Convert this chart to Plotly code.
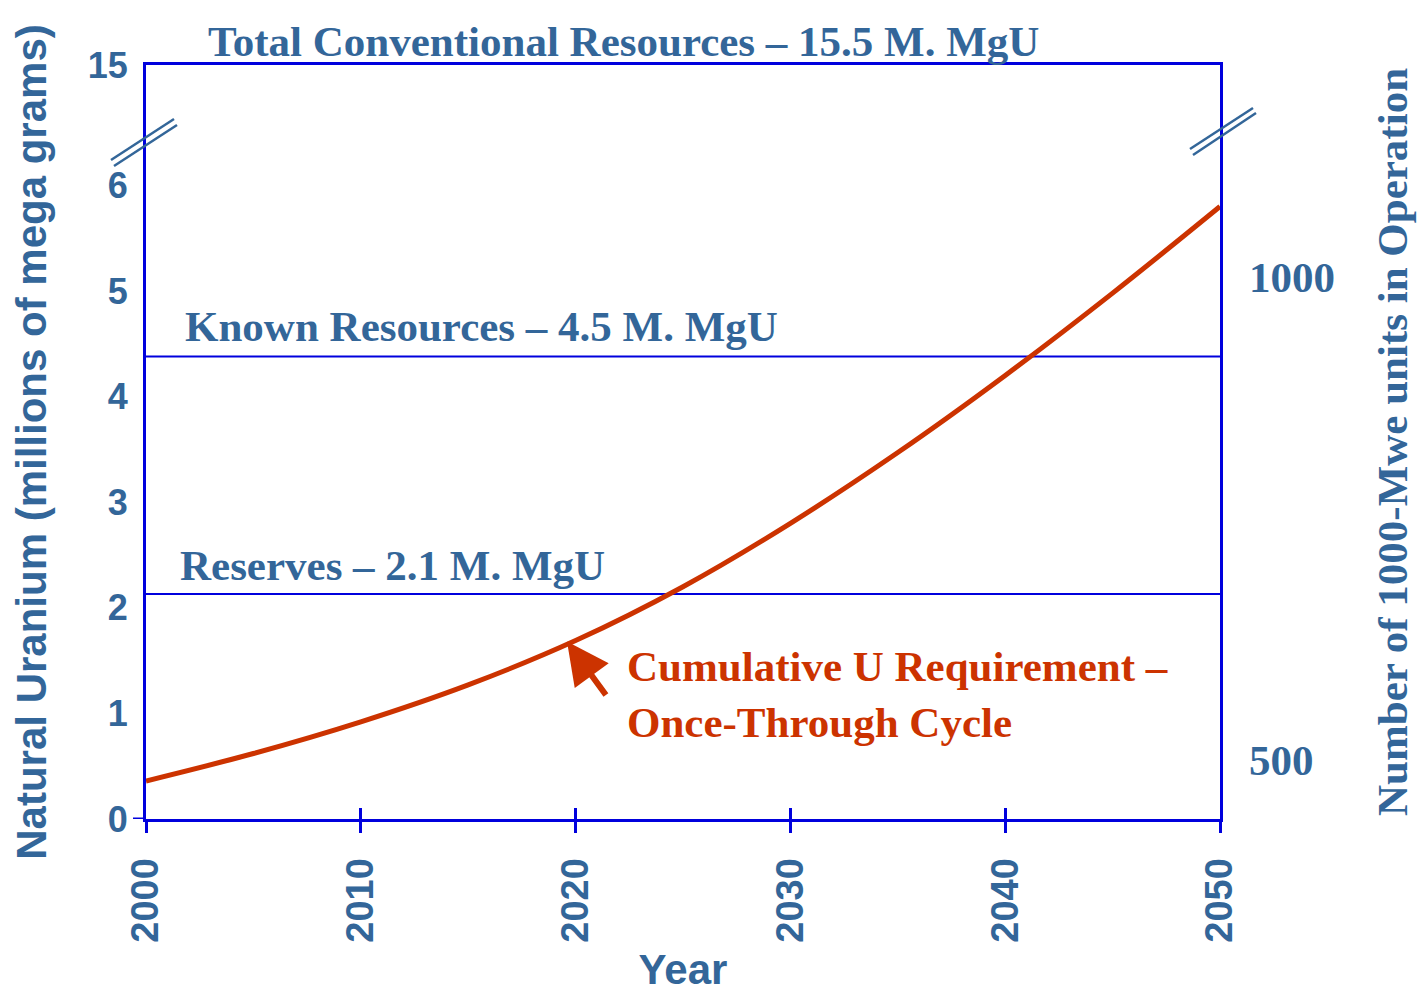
import plotly.graph_objects as go

# ---- data ----
years = [2000, 2005, 2010, 2015, 2020, 2025, 2030, 2035, 2040, 2045, 2050]
cumulative_u = [0.36, 0.62, 0.92, 1.27, 1.69, 2.20, 2.80, 3.47, 4.20, 4.98, 5.80]

line_span = [2000, 2050]
reserves_level = 2.13
known_level = 4.38

x_ticks = [2000, 2010, 2020, 2030, 2040, 2050]
y_tickvals = [0, 1, 2, 3, 4, 5, 6, 7.14]
y_ticktext = ["0", "1", "2", "3", "4", "5", "6", "15"]
y_range = [0, 7.14]
y2_tickvals = [500, 1000]
y2_range = [438.6, 1219.5]

BLUE = "#0000DD"
TXT = "#336699"
RED = "#CC3300"
SANS = "Liberation Sans"
SERIF = "Liberation Serif"

fig = go.Figure()

fig.add_trace(go.Scatter(x=line_span, y=[known_level, known_level], mode="lines",
                         line=dict(color=BLUE, width=2), hoverinfo="skip"))
fig.add_trace(go.Scatter(x=line_span, y=[reserves_level, reserves_level], mode="lines",
                         line=dict(color=BLUE, width=2), hoverinfo="skip"))
fig.add_trace(go.Scatter(x=years, y=cumulative_u, mode="lines", line_shape="spline",
                         line=dict(color=RED, width=5), hoverinfo="skip"))
# empty traces so the secondary axes are created
fig.add_trace(go.Scatter(x=[], y=[], yaxis="y2"))
fig.add_trace(go.Scatter(x=[], y=[], xaxis="x2"))

OFF = 8  # page body margin
W, H = 1425 - OFF, 993 - OFF
L, R, T, B = 146 - OFF, 205, 65 - OFF, 174
pw = W - L - R
ph = H - T - B

fig.update_layout(
    width=W, height=H,
    margin=dict(l=L, r=R, t=T, b=B, autoexpand=False),
    paper_bgcolor="white", plot_bgcolor="white",
    showlegend=False,
    xaxis=dict(range=[2000, 2050], tickvals=x_ticks, tickangle=-90, automargin=False,
               ticks="outside", ticklen=11, tickwidth=2.5, tickcolor=BLUE,
               showline=True, linecolor=BLUE, linewidth=3, mirror=True,
               showgrid=False, zeroline=False, ticklabelstandoff=10,
               tickfont=dict(family=SANS, size=38, color=TXT, weight="bold"),
               title=dict(text="Year", standoff=29,
                          font=dict(family=SANS, size=42, color=TXT, weight="bold"))),
    xaxis2=dict(range=[2000, 2050], tickvals=x_ticks, overlaying="x", anchor="y",
                ticks="inside", ticklen=11, tickwidth=2.5, tickcolor=BLUE, automargin=False,
                showticklabels=False, showline=False, showgrid=False, zeroline=False,
                side="bottom"),
    yaxis=dict(range=y_range, tickvals=y_tickvals, ticktext=y_ticktext, automargin=False,
               showline=True, linecolor=BLUE, linewidth=3, mirror=True,
               ticks="", showgrid=False, zeroline=False, ticklabelstandoff=8,
               tickfont=dict(family=SANS, size=36, color=TXT, weight="bold"),
               title=dict(text="Natural Uranium (millions of mega grams)", standoff=44,
                          font=dict(family=SANS, size=42, color=TXT, weight="bold"))),
    yaxis2=dict(range=y2_range, tickvals=y2_tickvals, overlaying="y", side="right",
                anchor="x", showline=False, showgrid=False, zeroline=False, ticks="",
                ticklabelstandoff=28, automargin=False,
                tickfont=dict(family=SERIF, size=43, color=TXT, weight="bold"),
                title=dict(text="Number of 1000-Mwe units in Operation", standoff=42,
                           font=dict(family=SERIF, size=43, color=TXT, weight="bold"))),
)

def px_x(px):
    return (px - OFF - L) / pw

def px_y(py):
    return 1 - (py - OFF - T) / ph

shapes = []
# axis break marks (left and right)
for (x0, y0, x1, y1) in [(111, 160, 174, 119), (114, 166, 177, 125),
                         (1190, 149, 1253, 108), (1193, 155, 1256, 113)]:
    shapes.append(dict(type="line", xref="paper", yref="paper",
                       x0=px_x(x0), y0=px_y(y0), x1=px_x(x1), y1=px_y(y1),
                       line=dict(color=TXT, width=2.5)))
# small extension of the zero line to the left of the y axis
shapes.append(dict(type="line", xref="paper", yref="y", x0=px_x(133), x1=0, y0=0, y1=0,
                   line=dict(color=BLUE, width=3)))
fig.update_layout(shapes=shapes)

ann_font = dict(family=SERIF, size=43, color=TXT, weight="bold")
fig.add_annotation(text="Total Conventional Resources – 15.5 M. MgU", xref="x", yref="paper",
                   x=2002.8, y=px_y(42), xanchor="left", yanchor="middle",
                   showarrow=False, font=ann_font)
fig.add_annotation(text="Known Resources – 4.5 M. MgU", xref="x", yref="y",
                   x=2001.7, y=4.66, xanchor="left", yanchor="middle",
                   showarrow=False, font=ann_font)
fig.add_annotation(text="Reserves – 2.1 M. MgU", xref="x", yref="y",
                   x=2001.5, y=2.40, xanchor="left", yanchor="middle",
                   showarrow=False, font=ann_font)
fig.add_annotation(text="Cumulative U Requirement –<br>Once-Through Cycle", xref="x", yref="y",
                   x=2022.3, y=1.18, xanchor="left", yanchor="middle", align="left",
                   showarrow=False, font=dict(family=SERIF, size=43, color=RED, weight="bold"))
fig.add_annotation(text="", xref="x", yref="y", x=2019.6, y=1.68,
                   ax=40, ay=55, showarrow=True, arrowhead=2, arrowsize=1.4,
                   arrowwidth=6, arrowcolor=RED, standoff=0)

fig.write_html("out.html")
